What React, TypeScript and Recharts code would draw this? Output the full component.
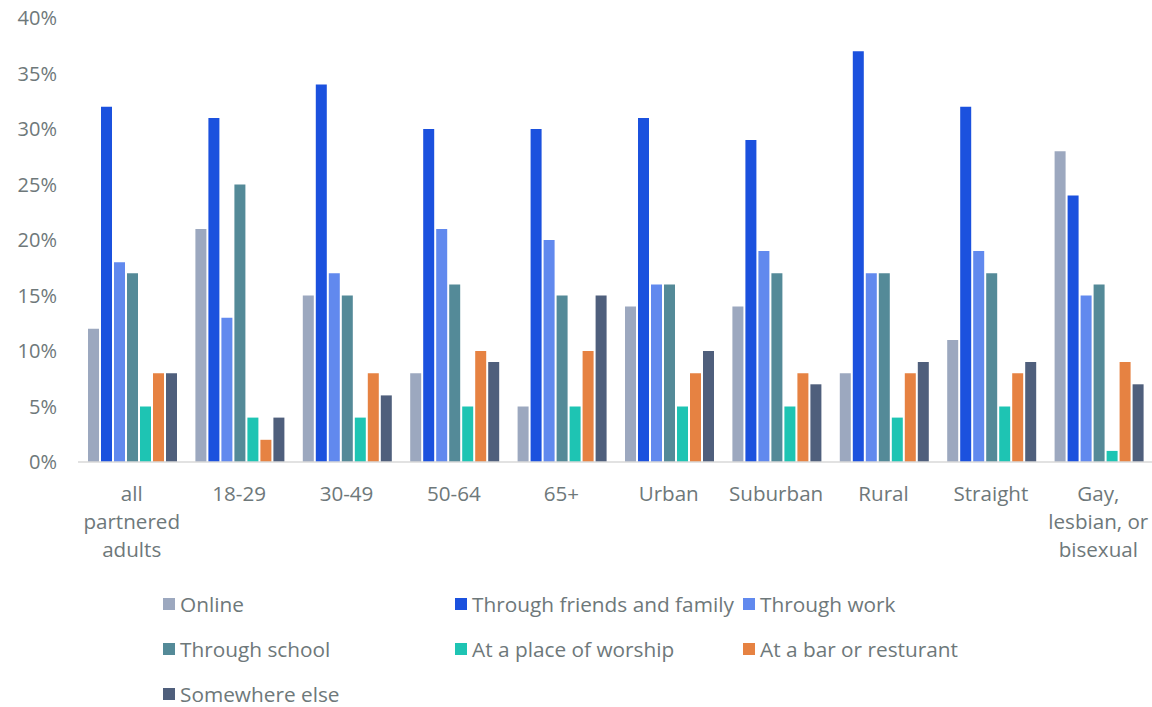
import React from "react";
import { BarChart, Bar, XAxis, YAxis } from "recharts";

const categories = [
  "all partnered adults",
  "18-29",
  "30-49",
  "50-64",
  "65+",
  "Urban",
  "Suburban",
  "Rural",
  "Straight",
  "Gay, lesbian, or bisexual",
];
const categoryLines = [
  ["all", "partnered", "adults"],
  ["18-29"],
  ["30-49"],
  ["50-64"],
  ["65+"],
  ["Urban"],
  ["Suburban"],
  ["Rural"],
  ["Straight"],
  ["Gay,", "lesbian, or", "bisexual"],
];

const online = [12, 21, 15, 8, 5, 14, 14, 8, 11, 28];
const friendsFamily = [32, 31, 34, 30, 30, 31, 29, 37, 32, 24];
const work = [18, 13, 17, 21, 20, 16, 19, 17, 19, 15];
const school = [17, 25, 15, 16, 15, 16, 17, 17, 17, 16];
const worship = [5, 4, 4, 5, 5, 5, 5, 4, 5, 1];
const barRestaurant = [8, 2, 8, 10, 10, 8, 8, 8, 8, 9];
const somewhereElse = [8, 4, 6, 9, 15, 10, 7, 9, 9, 7];

const yTicks = [0, 5, 10, 15, 20, 25, 30, 35, 40];

const series = [
  { key: "online", name: "Online", color: "#9CA8BF", values: online },
  { key: "friends", name: "Through friends and family", color: "#1B51DE", values: friendsFamily },
  { key: "work", name: "Through work", color: "#6189EE", values: work },
  { key: "school", name: "Through school", color: "#548A98", values: school },
  { key: "worship", name: "At a place of worship", color: "#1EC4B3", values: worship },
  { key: "bar", name: "At a bar or resturant", color: "#E68242", values: barRestaurant },
  { key: "else", name: "Somewhere else", color: "#4F5F7C", values: somewhereElse },
];

const data = categories.map((c, i) => {
  const row: Record<string, any> = { category: c, idx: i };
  series.forEach((s) => (row[s.key] = s.values[i]));
  return row;
});

const FONT = "'Open Sans', sans-serif";
const TEXT = "#6E787A";

const XTick = (props: any) => {
  const { x, y, payload } = props;
  const lines = categoryLines[payload.index] || [payload.value];
  return (
    <g>
      {lines.map((l: string, i: number) => (
        <text
          key={i}
          x={x}
          y={y + 31 + i * 28}
          textAnchor="middle"
          fill={TEXT}
          fontSize={20.6}
          fontFamily={FONT}
        >
          {l}
        </text>
      ))}
    </g>
  );
};

const legendRows = [
  [0, 1, 2],
  [3, 4, 5],
  [6],
];
const legendCols = [163, 455, 743];
const legendRowY = [604, 649, 694];

export default function App() {
  return (
    <div style={{ position: "absolute", left: 0, top: 0, width: 1152, height: 707, background: "#fff" }}>
      <BarChart
        width={1152}
        height={707}
        data={data}
        margin={{ top: 18, right: 0, bottom: 0, left: 0 }}
        barCategoryGap={10}
        barGap={2}
      >
        <XAxis
          dataKey="category"
          axisLine={{ stroke: "#D9D9D9", strokeWidth: 1.5 }}
          tickLine={false}
          height={245}
          interval={0}
          tick={<XTick />}
        />
        <YAxis
          width={78}
          domain={[0, 40]}
          ticks={yTicks}
          axisLine={false}
          tickLine={false}
          tickMargin={15}
          tickFormatter={(v: number) => `${v}%`}
          tick={{ fill: TEXT, fontSize: 20, fontFamily: FONT }}
        />
        {series.map((s) => (
          <Bar key={s.key} dataKey={s.key} name={s.name} fill={s.color} isAnimationActive={false} />
        ))}
      </BarChart>
      {legendRows.map((row, ri) =>
        row.map((si, ci) => (
          <div
            key={si}
            style={{
              position: "absolute",
              left: legendCols[ci],
              top: legendRowY[ri] - 14,
              height: 28,
              display: "flex",
              alignItems: "center",
              fontFamily: FONT,
              fontSize: 20.8,
              color: TEXT,
              whiteSpace: "nowrap",
            }}
          >
            <span style={{ width: 12, height: 12, background: series[si].color, marginRight: 5, display: "inline-block" }} />
            {series[si].name}
          </div>
        ))
      )}
    </div>
  );
}
